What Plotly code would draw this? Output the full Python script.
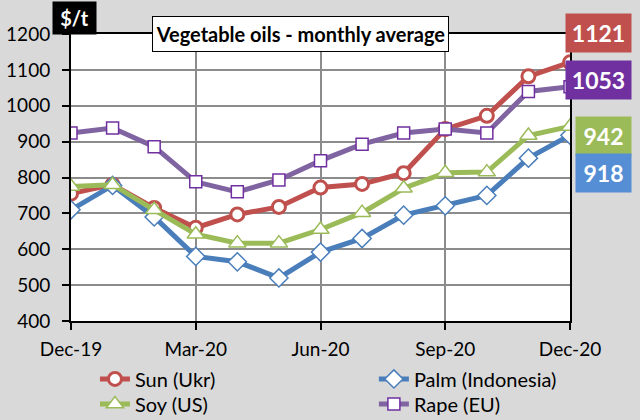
"""
Vegetable oil prices - monthly averages, Dec-19 to Dec-20 ($/t).
"""

import plotly.graph_objects as go

months = ['Dec-19', 'Jan-20', 'Feb-20', 'Mar-20', 'Apr-20', 'May-20', 'Jun-20',
          'Jul-20', 'Aug-20', 'Sep-20', 'Oct-20', 'Nov-20', 'Dec-20']
tick_months = ['Dec-19', 'Mar-20', 'Jun-20', 'Sep-20', 'Dec-20']

sun_ukr = [755, 780, 715, 660, 697, 718, 772, 782, 812, 935, 972, 1082, 1121]
palm_indonesia = [710, 778, 690, 580, 565, 520, 592, 630, 695, 721, 750, 854, 918]
soy_us = [775, 780, 710, 642, 617, 617, 655, 702, 770, 813, 815, 917, 942]
rape_eu = [924, 938, 886, 788, 760, 793, 847, 893, 924, 935, 924, 1040, 1053]

FONT = 'Lato'
BG = '#D9D9D9'


def add_series(fig, name, values, color, symbol, size, mcolor, mwidth, legend):
    fig.add_trace(go.Scatter(
        x=months, y=values, name=name, mode='lines+markers',
        line=dict(color=color, width=5),
        marker=dict(symbol=symbol, size=size, color='white',
                    line=dict(color=mcolor, width=mwidth)),
        legend=legend, showlegend=True,
    ))


def end_label(fig, text, color, y, width):
    # coloured value box to the right of the plot area
    fig.add_annotation(
        xref='paper', yref='paper', x=1.1242, y=y, xanchor='right', yanchor='middle',
        text=f'<b>{text}</b>', showarrow=False, bgcolor=color,
        width=width, height=38, borderpad=0,
        font=dict(family=FONT, size=23, color='white'),
    )


def legend_box(x, y):
    # one legend per entry so the 2x2 grid can be placed exactly
    return dict(orientation='v', x=x, y=y, xanchor='left', yanchor='top',
                bgcolor='rgba(0,0,0,0)', font=dict(family=FONT, size=20, color='black'))


def main():
    fig = go.Figure()

    add_series(fig, 'Sun (Ukr)', sun_ukr, '#C0504D', 'circle', 13, '#C0504D', 3, 'legend')
    add_series(fig, 'Palm (Indonesia)', palm_indonesia, '#4A7EBB', 'diamond', 14, '#4A7EBB', 1.5, 'legend2')
    add_series(fig, 'Soy (US)', soy_us, '#9BBB59', 'triangle-up', 15, '#9BBB59', 1.5, 'legend3')
    add_series(fig, 'Rape (EU)', rape_eu, '#8064A2', 'square', 12, '#7030A0', 1.5, 'legend4')

    end_label(fig, sun_ukr[-1], '#C0504D', 1.005, 65)
    end_label(fig, rape_eu[-1], '#7030A0', 0.838, 65)
    end_label(fig, soy_us[-1], '#9BBB59', 0.646, 55)
    end_label(fig, palm_indonesia[-1], '#558ED5', 0.514, 55)

    fig.add_annotation(
        xref='paper', yref='paper', x=0.46, y=1.0, xanchor='center', yanchor='middle',
        text='<b>Vegetable oils - monthly average</b>', showarrow=False,
        bgcolor='white', bordercolor='black', borderwidth=1, borderpad=2,
        width=291, height=30,
        font=dict(family=FONT, size=20, color='black'),
    )
    fig.add_annotation(
        xref='paper', yref='paper', x=0.007, y=1.0557, xanchor='center', yanchor='middle',
        text='<b>$/t</b>', showarrow=False, bgcolor='black', borderpad=0,
        width=43, height=32, font=dict(family=FONT, size=20, color='white'),
    )

    axis_common = dict(
        showline=True, linecolor='black', linewidth=2, mirror=True,
        showgrid=True, gridcolor='#8C8C8C', gridwidth=2,
        ticks='outside', ticklen=7, tickcolor='black', tickwidth=2,
        tickfont=dict(family=FONT, size=19, color='black'),
        zeroline=False, automargin=False,
    )

    fig.update_xaxes(type='category', range=[0, len(months) - 1],
                     tickvals=tick_months, ticktext=tick_months,
                     ticklabelstandoff=3, **axis_common)
    fig.update_yaxes(range=[400, 1200], dtick=100, ticklabelstandoff=8, **axis_common)

    fig.update_layout(
        width=640, height=420,
        margin=dict(l=71, r=70, t=34, b=99, autoexpand=False),
        paper_bgcolor=BG, plot_bgcolor='white',
        font=dict(family=FONT, color='black'),
        showlegend=True,
        legend=legend_box(0.048, -0.134),
        legend2=legend_box(0.607, -0.134),
        legend3=legend_box(0.048, -0.221),
        legend4=legend_box(0.607, -0.221),
    )

    # page body has a default 8px margin; drop it so the figure sits at 0,0
    fig.write_html('out.html', config={'displayModeBar': False},
                   post_script="document.body.style.margin='0';")


if __name__ == '__main__':
    main()
